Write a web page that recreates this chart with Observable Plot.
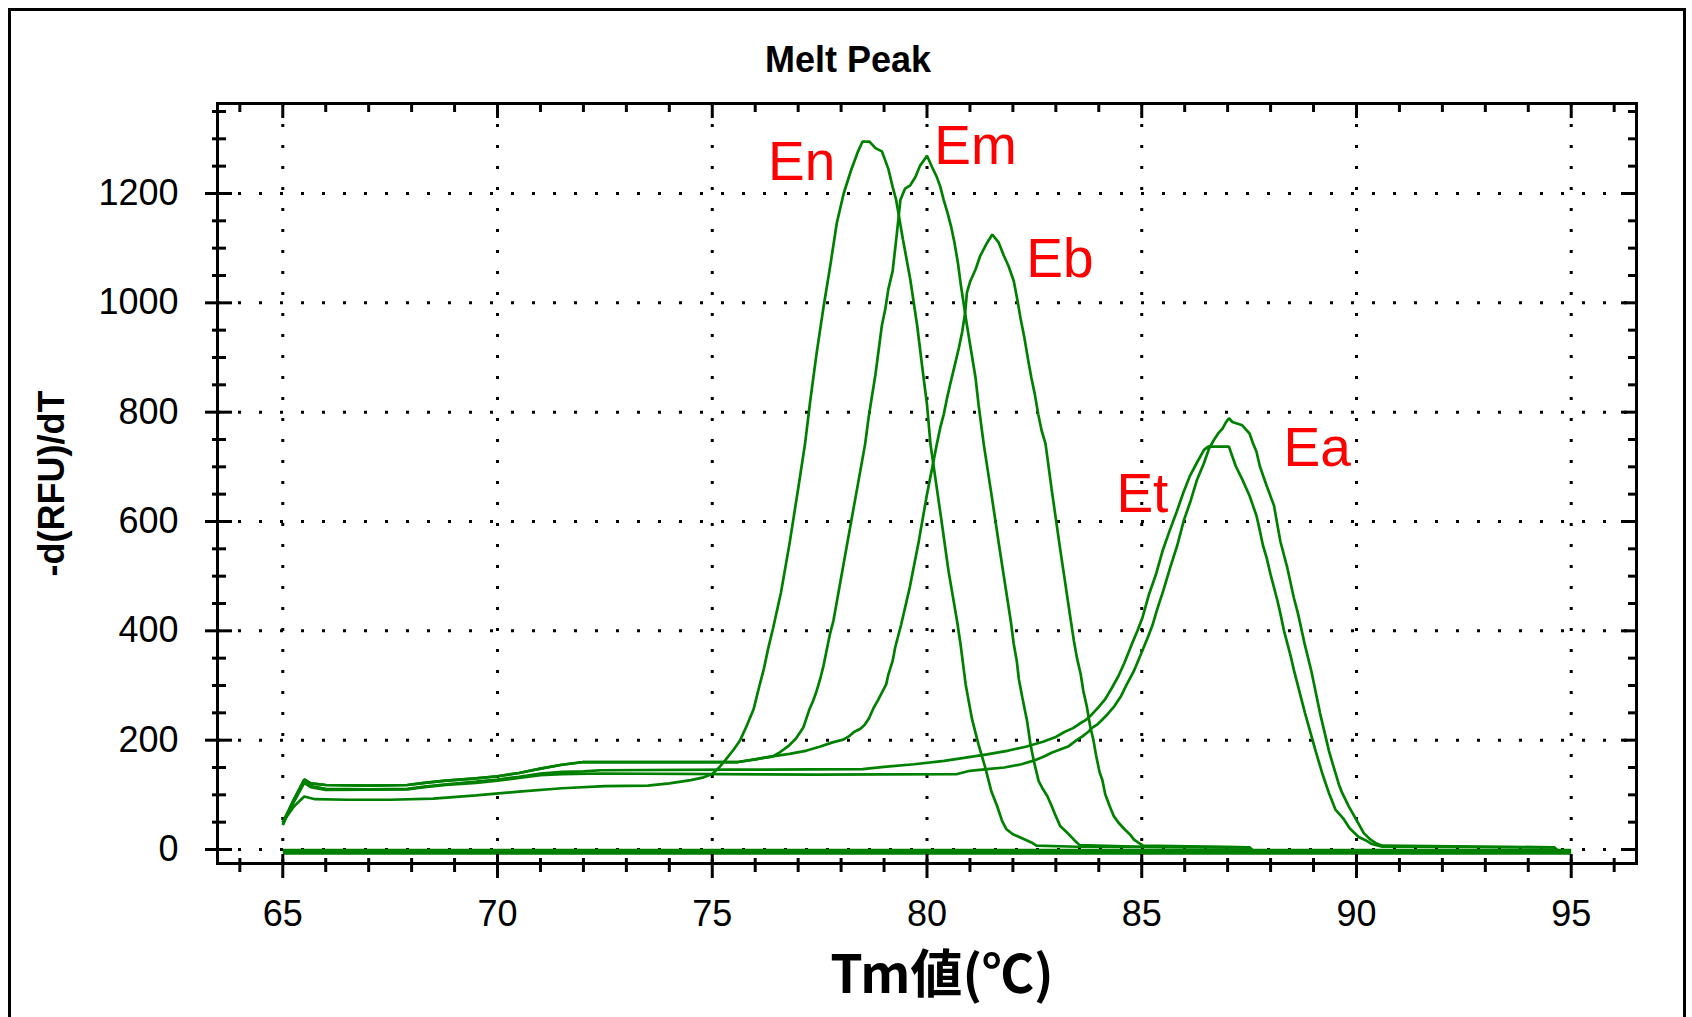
<!DOCTYPE html>
<html><head><meta charset="utf-8">
<script src="https://cdn.jsdelivr.net/npm/d3@7"></script>
<script src="https://cdn.jsdelivr.net/npm/@observablehq/plot@0.6"></script>
<style>
html,body{margin:0;padding:0;background:#fff;width:1692px;height:1017px;overflow:hidden}
#border{position:absolute;left:8px;top:8px;width:1678px;height:1100px;border:3px solid #000;box-sizing:border-box;pointer-events:none}
#chart{position:absolute;left:0;top:0}
</style></head><body>
<div id="chart"></div><div id="border"></div>
<script>
// ---- data (temperature °C, -d(RFU)/dT) ----
const En = [[65,50],[65.25,78],[65.5,97],[65.75,92],[66.5,91],[67.5,91],[68.5,93],[69.5,99],[70.5,106],[71.5,112],[72.5,116],[73.5,117],[74,121],[74.5,127],[74.8,132],[75,138],[75.16,150],[75.3,163],[75.5,183],[75.65,200],[75.8,226],[75.96,256],[76.1,300],[76.2,330],[76.3,367],[76.42,406],[76.6,470],[76.8,560],[77,660],[77.16,742],[77.28,820],[77.43,908],[77.59,992],[77.74,1064],[77.9,1146],[78.06,1200],[78.23,1242],[78.4,1278],[78.5,1295],[78.66,1295],[78.8,1283],[78.95,1277],[79.1,1245],[79.2,1212],[79.28,1189],[79.44,1116],[79.61,1043],[79.77,959],[79.92,863],[80,814],[80.08,742],[80.34,600],[80.5,510],[80.7,418],[80.78,376],[80.9,302],[81.05,238],[81.2,192],[81.36,149],[81.5,106],[81.63,80],[81.75,52],[81.85,37],[82,28],[82.2,21],[82.43,13],[82.55,7],[83.5,5],[87.5,4],[87.6,-3]];
const Em = [[65,45],[65.25,90],[65.5,128],[65.65,121],[66,118],[67,117],[67.9,118],[68.3,122],[68.8,126],[69.5,130],[70,134],[70.5,140],[71,148],[71.5,155],[72,160],[75.6,160],[76,165],[76.4,170],[76.56,177],[76.77,189],[76.95,203],[77.12,223],[77.26,256],[77.35,272],[77.43,290],[77.51,311],[77.59,336],[77.66,363],[77.74,394],[77.82,418],[78,497],[78.2,585],[78.4,672],[78.56,742],[78.64,790],[78.72,830],[78.8,869],[78.87,911],[78.95,959],[79.03,989],[79.1,1025],[79.2,1058],[79.3,1128],[79.38,1188],[79.49,1209],[79.61,1215],[79.73,1230],[79.84,1251],[79.92,1260],[80,1269],[80.12,1248],[80.23,1230],[80.31,1212],[80.39,1188],[80.48,1164],[80.56,1140],[80.64,1110],[80.72,1073],[80.78,1037],[80.86,995],[80.93,959],[81.03,911],[81.13,863],[81.2,814],[81.32,742],[81.5,650],[81.7,545],[81.95,418],[82.02,376],[82.09,345],[82.14,311],[82.22,278],[82.33,235],[82.41,192],[82.49,161],[82.6,125],[82.68,113],[82.8,98],[82.9,80],[83,61],[83.1,43],[83.26,31],[83.42,18],[83.55,8],[85,5],[87.5,4],[87.6,-3]];
const Eb = [[65,45],[65.25,90],[65.5,128],[65.65,121],[66,118],[67,117],[67.9,118],[68.3,122],[68.8,126],[69.5,130],[70,134],[70.5,140],[71,148],[71.5,155],[72,160],[75.6,160],[76,165],[76.35,170],[76.8,175],[77.2,181],[77.5,188],[77.8,196],[78.05,201],[78.2,208],[78.3,215],[78.45,221],[78.55,228],[78.65,240],[78.75,258],[78.85,272],[78.95,287],[79.05,302],[79.1,320],[79.2,345],[79.26,370],[79.4,412],[79.6,480],[79.8,560],[80,650],[80.23,742],[80.31,772],[80.39,796],[80.47,827],[80.54,851],[80.65,887],[80.74,917],[80.82,947],[80.89,983],[80.93,1019],[81.01,1040],[81.13,1061],[81.24,1086],[81.4,1110],[81.52,1125],[81.67,1110],[81.79,1086],[81.9,1067],[82.02,1040],[82.1,1007],[82.18,971],[82.27,935],[82.36,893],[82.43,863],[82.51,833],[82.59,796],[82.67,766],[82.76,742],[82.9,660],[83.1,550],[83.35,418],[83.42,382],[83.49,351],[83.58,320],[83.64,290],[83.72,262],[83.8,225],[83.87,202],[83.94,171],[84.02,141],[84.08,128],[84.15,101],[84.25,80],[84.35,61],[84.46,49],[84.6,37],[84.72,28],[84.82,18],[84.93,12],[85.03,7],[87.5,4],[87.6,-3]];
const Et = [[65,50],[65.25,90],[65.5,124],[65.65,116],[66,111],[67,110],[67.9,111],[68.3,115],[68.8,119],[69.5,124],[70,128],[70.5,133],[71,139],[71.5,142],[72,143],[72.4,145],[75.4,146],[78.5,147],[79,151],[79.7,156],[80.4,162],[80.9,168],[81.4,174],[81.9,181],[82.3,188],[82.7,197],[83,206],[83.2,215],[83.4,222],[83.55,230],[83.7,237],[83.85,248],[84,261],[84.15,275],[84.3,295],[84.45,316],[84.6,342],[84.75,372],[84.9,400],[85.02,425],[85.17,467],[85.33,503],[85.48,545],[85.64,581],[85.81,617],[85.97,653],[86.12,683],[86.28,707],[86.45,731],[86.55,737],[87.03,737],[87.11,719],[87.19,701],[87.34,677],[87.51,647],[87.59,629],[87.67,611],[87.74,587],[87.82,557],[87.91,533],[88,503],[88.08,479],[88.16,455],[88.23,431],[88.31,401],[88.39,377],[88.47,353],[88.54,329],[88.8,250],[89.05,180],[89.2,140],[89.36,103],[89.51,73],[89.69,57],[89.84,39],[90.05,23],[90.21,17],[90.36,10],[90.6,5],[94.6,4],[94.7,-3]];
const Ea = [[65,50],[65.25,86],[65.5,122],[65.65,114],[66,109],[67.9,110],[68.3,114],[68.8,118],[69.5,122],[70,126],[70.5,131],[71,136],[71.5,138],[72.4,139],[77.4,137],[80.7,138],[81,144],[81.4,147],[81.8,150],[82.2,156],[82.5,163],[82.75,171],[82.9,177],[83.1,183],[83.3,189],[83.4,195],[83.5,201],[83.62,207],[83.75,215],[83.85,223],[83.97,229],[84.05,235],[84.2,247],[84.36,262],[84.52,281],[84.67,305],[84.82,327],[84.98,357],[85.14,388],[85.25,410],[85.35,437],[85.5,473],[85.66,515],[85.83,557],[85.98,602],[86.14,638],[86.29,677],[86.45,707],[86.57,734],[86.68,749],[86.78,761],[86.88,770],[86.95,780],[87.03,789],[87.11,782],[87.34,776],[87.51,761],[87.59,743],[87.67,728],[87.75,701],[87.91,665],[88.08,629],[88.16,593],[88.23,563],[88.39,515],[88.54,461],[88.64,431],[88.79,377],[88.95,326],[89.15,250],[89.36,180],[89.43,161],[89.51,140],[89.59,119],[89.67,103],[89.82,79],[90,54],[90.17,30],[90.33,18],[90.44,12],[90.6,7],[94.6,4],[94.7,-3]];
const NTC = [[65,-4],[95,-4]];

const seriesNames = ["En","Em","Eb","Et","Ea"];
const seriesData = [En, Em, Eb, Et, Ea];

const labelNames = ["En","Em","Eb","Et","Ea"];
const labelX = [76.3, 80.17, 82.31, 84.41, 88.3];
const labelY = [1257, 1286, 1080, 649, 733];

const xMajor = [65,70,75,80,85,90,95];
const xMinor = [64,66,67,68,69,71,72,73,74,76,77,78,79,81,82,83,84,86,87,88,89,91,92,93,94,96];
const yMajor = [0,200,400,600,800,1000,1200];
const yMinor = [50,100,150,250,300,350,450,500,550,650,700,750,850,900,950,1050,1100,1150,1250,1300,1350];
const xDomain = [63.48, 96.52];
const yDomain = [-25.6, 1364.6];

const titleText = "Melt Peak";
const xLabel = "Tm値(℃)";
const yLabel = "-d(RFU)/dT";

// ---- chart ----
const W = 1692, H = 1017;
const mL = 217, mR = 56, mT = 103, mB = 154;
const iW = W - mL - mR, iH = H - mT - mB;
const green = "#008000";

const rows = seriesData.flatMap((pts, k) => pts.map(([x, y]) => ({name: seriesNames[k], x, y})));
const base = NTC.map(([x, y]) => ({x, y}));
const labels = labelNames.map((t, i) => ({t, x: labelX[i], y: labelY[i]}));

const tk = {stroke: "#000", strokeWidth: 3};
const chart = Plot.plot({
  width: W, height: H,
  marginLeft: mL, marginRight: mR, marginTop: mT, marginBottom: mB,
  x: {domain: xDomain, label: null},
  y: {domain: yDomain, label: null},
  style: {background: "white", fontFamily: "'Liberation Sans', Arial, sans-serif", color: "#000"},
  marks: [
    Plot.gridX(xMajor, {stroke: "#000", strokeOpacity: 1, strokeWidth: 3, strokeDasharray: "3,18"}),
    Plot.gridY(yMajor, {stroke: "#000", strokeOpacity: 1, strokeWidth: 3, strokeDasharray: "3,18"}),
    Plot.line(base, {x: "x", y: "y", stroke: green, strokeWidth: 6, strokeLinecap: "butt"}),
    Plot.line(rows, {x: "x", y: "y", z: "name", stroke: green, strokeWidth: 2.7, strokeLinejoin: "miter", strokeLinecap: "butt"}),
    Plot.frame({stroke: "#000", strokeWidth: 3}),
    // left axis ticks (crossing), right axis ticks (inside)
    Plot.tickY(yMajor, {y: d => d, ...tk, insetLeft: -12, insetRight: iW - 15}),
    Plot.tickY(yMinor, {y: d => d, ...tk, insetLeft: -5, insetRight: iW - 9}),
    Plot.tickY(yMajor, {y: d => d, ...tk, insetLeft: iW - 15}),
    Plot.tickY(yMinor, {y: d => d, ...tk, insetLeft: iW - 8}),
    // bottom axis ticks (crossing), top axis ticks (inside)
    Plot.tickX(xMajor, {x: d => d, ...tk, insetTop: iH - 9, insetBottom: -15}),
    Plot.tickX(xMinor, {x: d => d, ...tk, insetTop: iH - 5, insetBottom: -9}),
    Plot.tickX(xMajor, {x: d => d, ...tk, insetBottom: iH - 15}),
    Plot.tickX(xMinor, {x: d => d, ...tk, insetBottom: iH - 9}),
    Plot.axisX(xMajor, {tickSize: 0, tickPadding: 37, fontSize: 36, label: null, tickFormat: d => String(d)}),
    Plot.axisY(yMajor, {tickSize: 0, tickPadding: 39, fontSize: 36, label: null, tickFormat: d => String(d)}),
    Plot.text(labels, {x: "x", y: "y", text: "t", textAnchor: "start", lineAnchor: "middle", fill: "#ff0000", fontSize: 55, fontFamily: "'Liberation Sans', Arial, sans-serif"}),
    Plot.text([titleText], {frameAnchor: "top", textAnchor: "middle", dx: -79, dy: -43, lineAnchor: "middle", fontSize: 36, fontWeight: "bold", fill: "#000", style: "letter-spacing:2.5px"}),
    Plot.text([yLabel], {frameAnchor: "left", textAnchor: "middle", dx: -165, rotate: -90, lineAnchor: "middle", fontSize: 36, fontWeight: "bold", fill: "#000"}),
    Plot.text([xLabel], {frameAnchor: "bottom", textAnchor: "middle", dx: 15, dy: 113, lineAnchor: "middle", fontSize: 52, fontWeight: "bold", fill: "#000", fontFamily: "'Noto Sans CJK JP', sans-serif"})
  ]
});
document.getElementById("chart").appendChild(chart);
</script></body></html>
